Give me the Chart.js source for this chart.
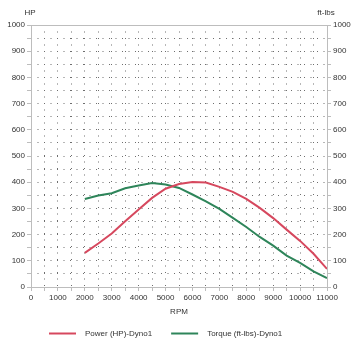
<!DOCTYPE html>
<html>
<head>
<meta charset="utf-8">
<title>Dyno</title>
<script src="https://cdn.jsdelivr.net/npm/chart.js@4"></script>
<style>
  html, body { margin: 0; padding: 0; background: #fff; }
  #wrap { width: 355px; height: 346px; }
</style>
</head>
<body>
<div id="wrap"><canvas id="dynoChart" width="355" height="346"></canvas></div>
<script>
// RPM sample points
const rpm = [2000, 2500, 3000, 3500, 4000, 4500, 5000, 5500, 6000, 6500, 7000,
             7500, 8000, 8500, 9000, 9500, 10000, 10500, 11000];
// Power (HP)
const powerHp = [130, 166, 204, 251, 296, 340, 375, 393, 401, 399, 382,
                 363, 336, 302, 263, 219, 176, 127, 69];
// Torque (ft-lbs)
const torqueFtLbs = [336, 349, 358, 377, 387, 397, 391, 378, 353, 327, 298,
                     264, 229, 191, 158, 120, 92, 60, 34];

const FONT = { family: '"Liberation Sans", Arial, sans-serif', size: 8 };
const FONT_CSS = `${FONT.size}px ${FONT.family}`;
const TEXT = '#333';
const DOTS = '#6e6e6e';
const AXIS = '#bdbdbd';
// grid dash lives on `border` in v4; the frame itself is drawn by the plugin below
const DOTTED = { display: false, dash: [1, 5.5] };

// every 50 gets a dotted line, only every 100 gets a label
const yTicks = v => (v % 100 === 0 ? v : '');

// solid frame (left, bottom, top), unit captions and the legend row
const frameAndUnits = {
    id: 'frameAndUnits',
    afterDatasetsDraw(chart) {
        const { ctx, chartArea: a } = chart;
        ctx.save();
        ctx.strokeStyle = AXIS;
        ctx.lineWidth = 1;
        ctx.beginPath();
        ctx.moveTo(a.left + 0.5, a.top);
        ctx.lineTo(a.left + 0.5, a.bottom);
        ctx.moveTo(a.left, a.bottom + 0.5);
        ctx.lineTo(a.right, a.bottom + 0.5);
        ctx.moveTo(a.left, a.top + 0.5);
        ctx.lineTo(a.right, a.top + 0.5);
        ctx.stroke();
        ctx.restore();
    },
    afterDraw(chart) {
        const { ctx, chartArea: a } = chart;
        ctx.save();
        ctx.fillStyle = TEXT;
        ctx.font = FONT_CSS;
        ctx.textAlign = 'center';
        ctx.textBaseline = 'middle';
        ctx.fillText('HP', a.left - 1, 13);
        ctx.fillText('ft-lbs', a.right - 1, 13);

        // legend: short line swatch, then label
        ctx.textAlign = 'left';
        let x = 49;
        const y = 333.5;
        chart.data.datasets.forEach(ds => {
            ctx.strokeStyle = ds.borderColor;
            ctx.lineWidth = 2;
            ctx.beginPath();
            ctx.moveTo(x, y);
            ctx.lineTo(x + 27, y);
            ctx.stroke();
            x += 36;
            ctx.fillText(ds.label, x, y);
            x += ctx.measureText(ds.label).width + 19;
        });
        ctx.restore();
    }
};

new Chart(document.getElementById('dynoChart'), {
    type: 'line',
    data: {
        datasets: [{
            label: 'Power (HP)-Dyno1',
            data: rpm.map((x, i) => ({ x, y: powerHp[i] })),
            borderColor: '#d6485e',
            borderWidth: 2,
            pointRadius: 0,
            tension: 0,
            yAxisID: 'y'
        }, {
            label: 'Torque (ft-lbs)-Dyno1',
            data: rpm.map((x, i) => ({ x, y: torqueFtLbs[i] })),
            borderColor: '#2e855a',
            borderWidth: 2,
            pointRadius: 0,
            tension: 0,
            yAxisID: 'y1'
        }]
    },
    options: {
        responsive: false,
        animation: false,
        layout: { padding: { top: 25, left: 0, right: 0, bottom: 29 } },
        plugins: {
            legend: { display: false },
            tooltip: { enabled: false }
        },
        scales: {
            x: {
                type: 'linear',
                min: 0,
                max: 11000,
                ticks: {
                    stepSize: 500,
                    autoSkip: false,
                    maxRotation: 0,
                    padding: 2,
                    color: TEXT,
                    font: FONT,
                    callback: v => (v % 1000 === 0 ? v : '')
                },
                grid: { color: DOTS, tickLength: 4, tickColor: AXIS },
                border: DOTTED,
                title: { display: true, text: 'RPM', color: TEXT, font: FONT, padding: { top: 3, bottom: 0 } },
                afterFit: s => { s.height = 30; }
            },
            y: {
                position: 'left',
                min: 0,
                max: 1000,
                ticks: { stepSize: 50, autoSkip: false, padding: 2, color: TEXT, font: FONT, callback: yTicks },
                grid: { color: DOTS, tickLength: 4, tickColor: AXIS },
                border: DOTTED,
                afterFit: s => { s.width = 31; }
            },
            y1: {
                position: 'right',
                min: 0,
                max: 1000,
                ticks: { stepSize: 50, autoSkip: false, padding: 2, color: TEXT, font: FONT, callback: yTicks },
                grid: { drawOnChartArea: false, tickLength: 4, tickColor: AXIS },
                border: { color: AXIS },
                afterFit: s => { s.width = 28; }
            }
        }
    },
    plugins: [frameAndUnits]
});
</script>
</body>
</html>
